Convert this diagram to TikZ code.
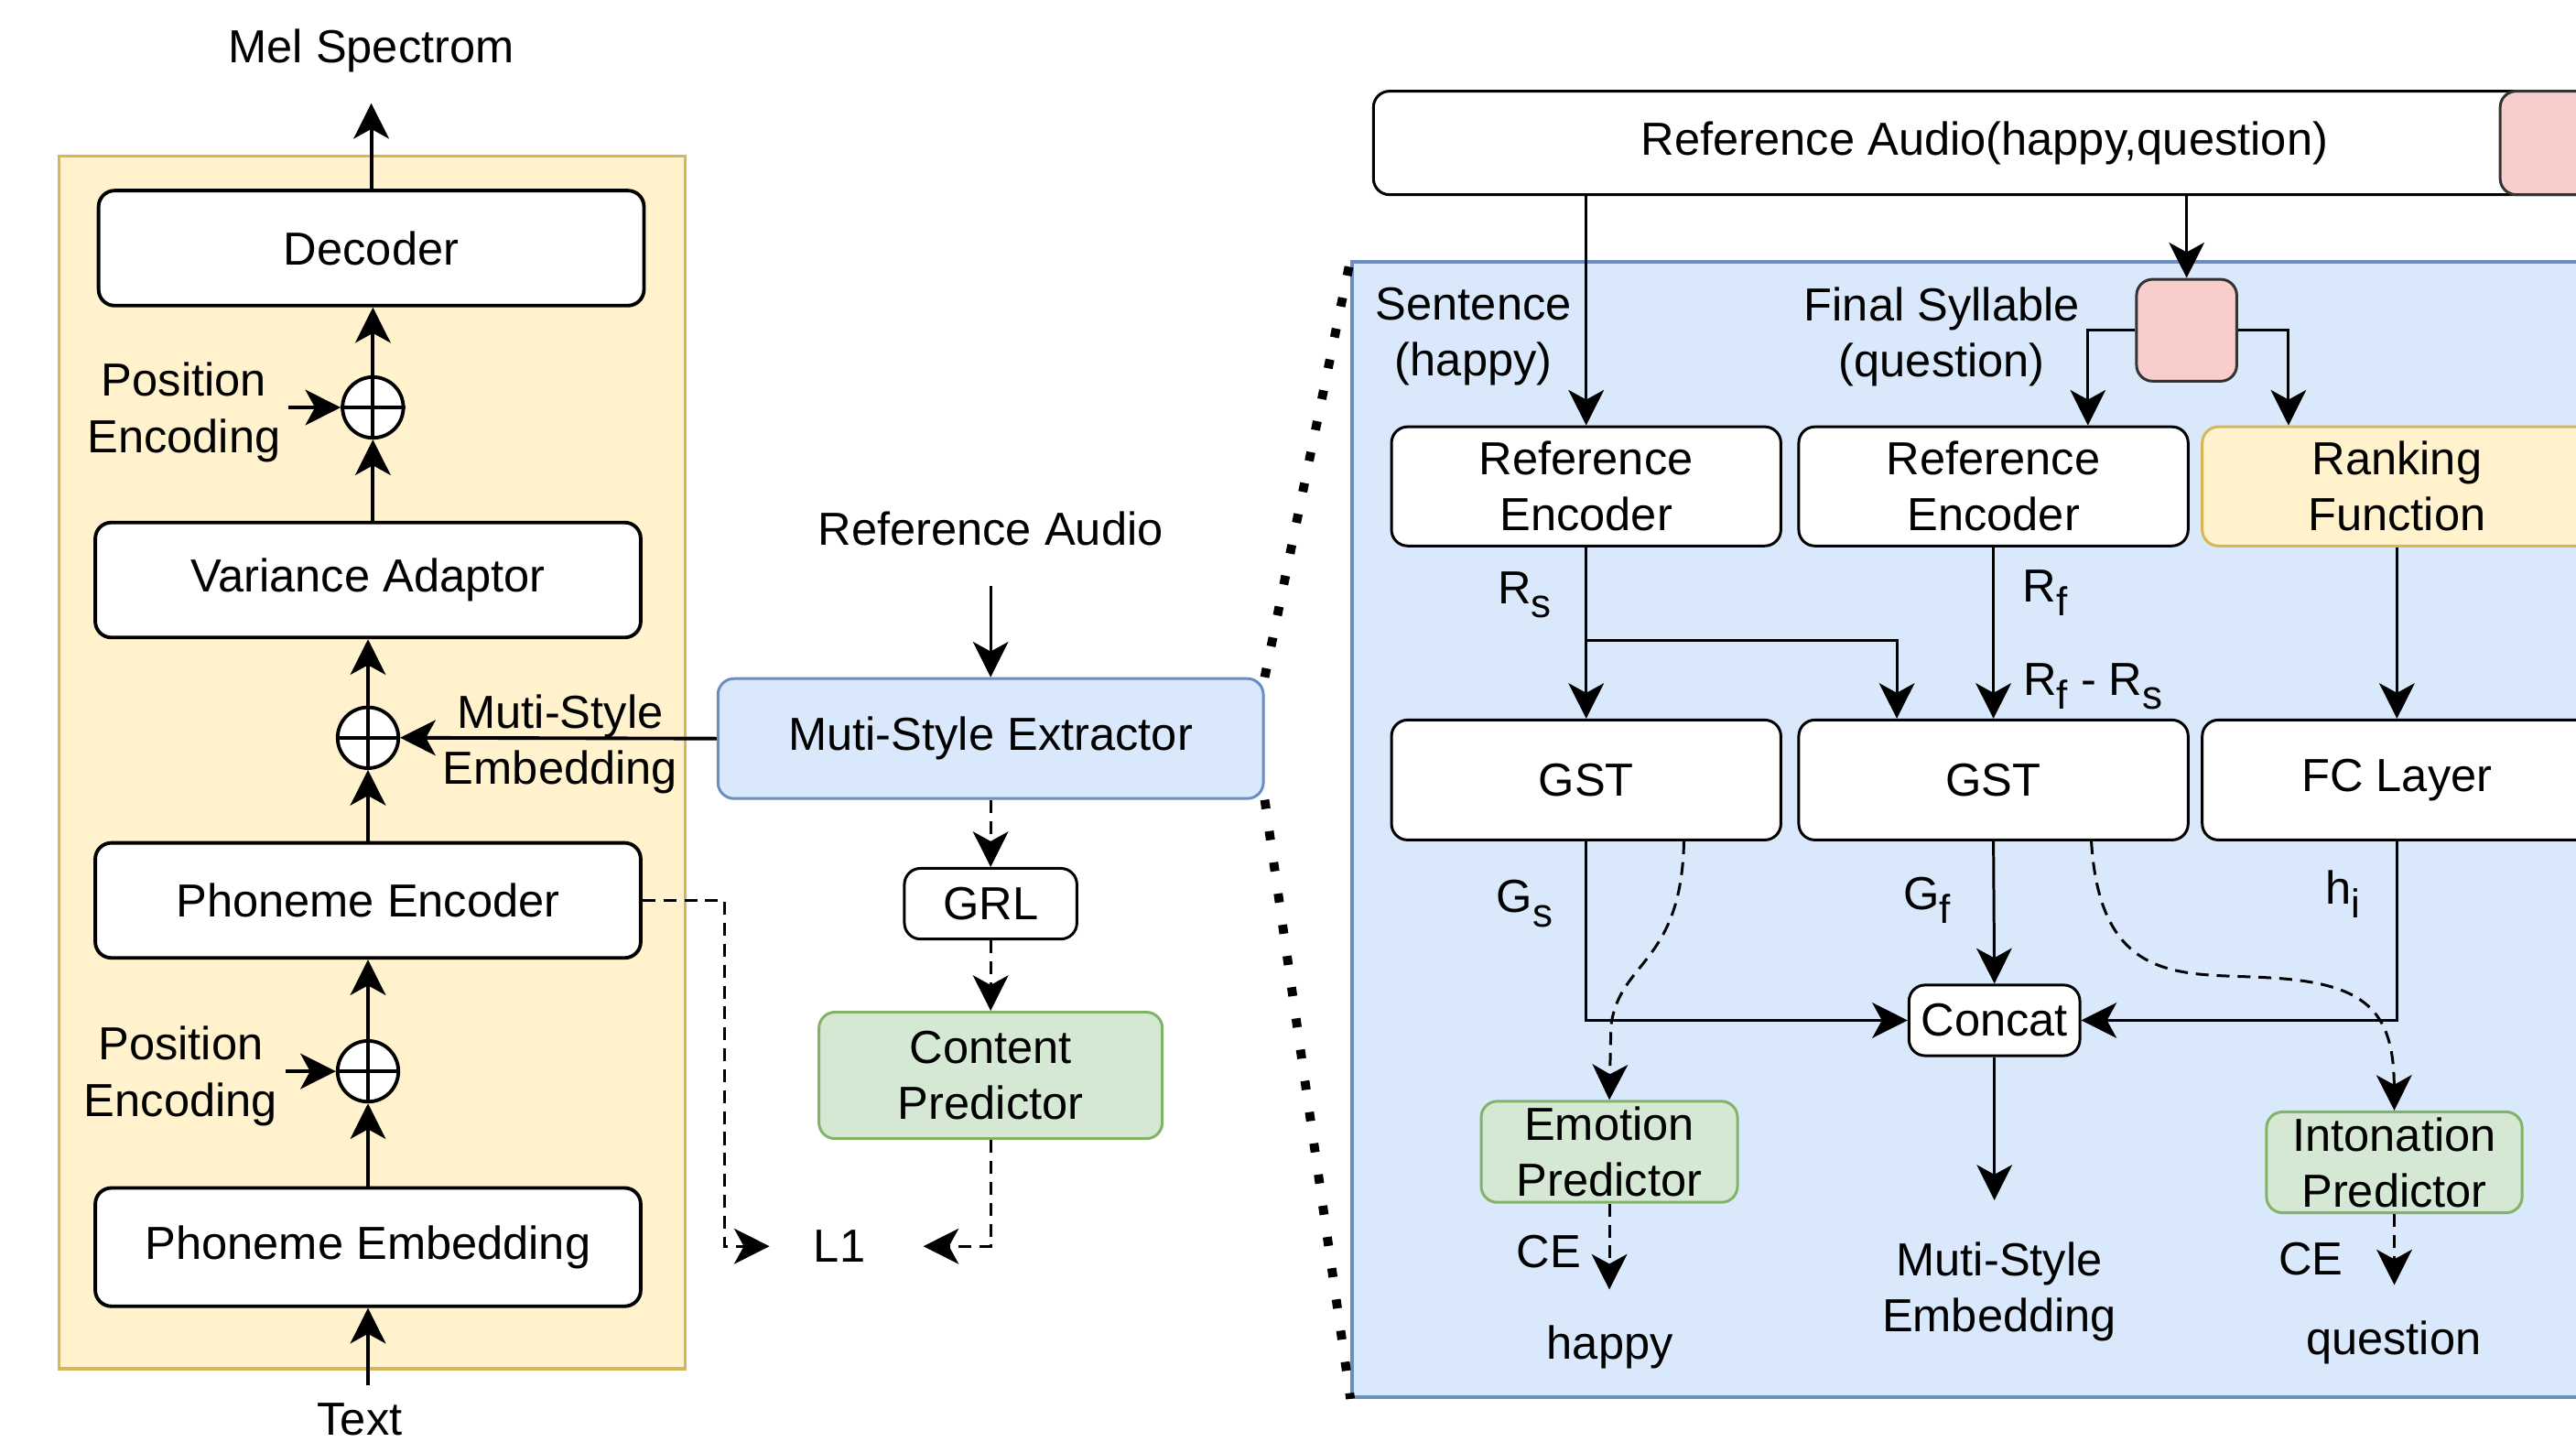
\documentclass[tikz,border=0pt]{standalone}
\usepackage{fontspec}
\setmainfont{Liberation Sans}
\usetikzlibrary{arrows.meta, positioning, calc}

\definecolor{yelfill}{HTML}{FFF2CC}
\definecolor{yeldraw}{HTML}{D6B656}
\definecolor{bluefill}{HTML}{DAE8FC}
\definecolor{bluedraw}{HTML}{6C8EBF}
\definecolor{grnfill}{HTML}{D5E8D4}
\definecolor{grndraw}{HTML}{82B366}
\definecolor{pinkfill}{HTML}{F8CECC}

\newcommand{\pxu}{0.017946cm}
\newcommand{\lowsub}[1]{\raisebox{-4.3pt}{\fontsize{12.5}{12.5}\selectfont #1}}

\tikzset{
	bsize/.style 2 args={minimum width=#1*\pxu, minimum height=#2*\pxu},
	block/.style={draw, rounded corners=5pt, fill=white, align=center, inner sep=0pt},
	lbl/.style={inner sep=2pt, align=center},
	arr/.style={-{Stealth[length=11pt,width=11pt,inset=3pt]}},
	darr/.style={arr, dash pattern=on 4pt off 2.5pt},
	plus/.style={draw, circle, fill=white, minimum size=37*\pxu, inner sep=0pt},
	dots/.style={line width=2.8pt, dash pattern=on 2.8pt off 7pt},
}

\begin{document}
\begin{tikzpicture}[x=\pxu, y=-\pxu, font=\fontsize{14.4}{17.4}\selectfont]
	\useasboundingbox (0,0) rectangle (1568,877.6);
	\clip (0,0) rectangle (1568,877.6);

	% containers
	\node[draw=yeldraw, fill=yelfill, line width=1pt, anchor=north west, bsize={381}{738}] (fs) at (35,94) {};
	\node[draw=bluedraw, fill=bluefill, line width=1.2pt, anchor=north west, bsize={820}{691}] (msebox) at (822,158) {};

	% left column
	\begin{scope}[line width=1.1pt]
	\node[block, bsize={332}{70}] (dec) at (226,151) {Decoder};
	\node[block, bsize={332}{70}] (var) at (224,353) {Variance Adaptor};
	\node[block, bsize={332}{70}] (penc) at (224,548) {Phoneme Encoder};
	\node[block, bsize={332}{72}] (pemb) at (224,759) {Phoneme Embedding};
	\node[plus] (add1) at (227,248) {};
	\node[plus] (add2) at (224,449) {};
	\node[plus] (add3) at (224,652) {};
	\foreach \p in {add1,add2,add3}
		\draw (\p.north) -- (\p.south) (\p.west) -- (\p.east);

	\node[lbl] (mel) at (226,31) {Mel Spectrom};
	\node[lbl] (pos1) at (112,251) {Position\\Encoding};
	\node[lbl] (mse) at (341,453) {Muti-Style\\Embedding};
	\node[lbl] (pos2) at (110,655) {Position\\Encoding};
	\node[lbl] (txt) at (219,864) {Text};

	\draw[arr, shorten >=7pt] (dec.north) -- (dec.north |- mel.south);
	\draw[arr] (add1.north) -- (add1.north |- dec.south);
	\draw[arr] (add1.south |- var.north) -- (add1.south);
	\draw[arr] (pos1.east |- add1.west) -- (add1.west);
	\draw[arr] (add2.north) -- (var.south);
	\draw[arr] (penc.north) -- (add2.south);
	\draw[arr] (add3.north) -- (penc.south);
	\draw[arr] (pemb.north) -- (add3.south);
	\draw[arr] (pos2.east |- add3.west) -- (add3.west);
	\draw[arr, shorten <=3pt] (txt.north -| pemb.south) -- (pemb.south);
	\end{scope}

	% extractor
	\begin{scope}[line width=0.85pt]
	\node[lbl] (refa) at (603,322) {Reference Audio};
	\node[block, draw=bluedraw, fill=bluefill, bsize={332}{73}] (extr) at (603,449.5) {Muti-Style Extractor};
	\node[block, bsize={105}{43}] (grl) at (603,550) {GRL};
	\node[block, draw=grndraw, fill=grnfill, bsize={209}{77}] (cpred) at (603,654.5) {Content\\Predictor};
	\node[lbl] (l1) at (511,758.5) {L1};

	\draw[arr, line width=1.1pt] (extr.west) -- (add2.east);
	\draw[arr, shorten <=10pt] (refa.south -| extr.north) -- (extr.north);
	\draw[darr] (extr.south) -- (grl.north);
	\draw[darr] (grl.south) -- (cpred.north);
	\draw[darr, shorten >=15.6pt] (cpred.south) |- (l1.east);
	\draw[darr, shorten >=11.3pt] (penc.east) -- ++(50,0) |- (l1.west);
	\end{scope}
	\draw[dots] (extr.north east) -- (msebox.north west);
	\draw[dots] (extr.south east) -- (msebox.south west);

	% multi-style extractor in detail
	\begin{scope}[line width=0.85pt]
	\node[block, bsize={744}{63}] (rbar) at (1208,87) {Reference Audio(happy,question)};
	\node[block, draw=black!80, fill=pinkfill, anchor=west, bsize={80}{63}] (rbarend) at (1521,87) {};
	\node[lbl] (sent) at (897,205) {Sentence\\(happy)};
	\node[lbl] (fsyl) at (1182,205) {Final Syllable\\(question)};
	\node[block, draw=black!80, fill=pinkfill, bsize={61}{62}] (seg) at (1331,201) {};
	\node[block, bsize={237}{72.5}] (renc1) at (965.5,296) {Reference\\Encoder};
	\node[block, bsize={237}{72.5}] (renc2) at (1213.4,296) {Reference\\Encoder};
	\node[block, draw=yeldraw, fill=yelfill, bsize={237}{72.5}] (rank) at (1459,296) {Ranking\\Function};
	\node[block, bsize={237}{73}] (gst1) at (965.5,474.7) {GST};
	\node[block, bsize={237}{73}] (gst2) at (1213.4,474.7) {GST};
	\node[block, bsize={237}{73}] (fc) at (1459,474.7) {FC Layer};
	\node[block, bsize={104}{43}] (concat) at (1214,621) {Concat};
	\node[block, draw=grndraw, fill=grnfill, bsize={156}{61.5}] (epred) at (979.6,701) {Emotion\\Predictor};
	\node[block, draw=grndraw, fill=grnfill, bsize={155.6}{61.4}] (ipred) at (1457.4,707.4) {Intonation\\Predictor};

	\node[lbl] (rs) at (928,362) {R\lowsub{s}};
	\node[lbl] (rf) at (1245,361) {R\lowsub{f}};
	\node[lbl] (rfs) at (1274,418) {R\lowsub{f} - R\lowsub{s}};
	\node[lbl] (gs) at (928,550) {G\lowsub{s}};
	\node[lbl] (gf) at (1173,548) {G\lowsub{f}};
	\node[lbl] (hi) at (1426,544) {h\lowsub{i}};
	\node[lbl] (ce1) at (942.6,762) {CE};
	\node[lbl] (ce2) at (1406.6,766) {CE};
	\node[lbl] (happy) at (980,820) {happy};
	\node[lbl] (quest) at (1457,817) {question};
	\node[lbl] (mse2) at (1217,786) {Muti-Style\\Embedding};

	\draw[arr] (rbar.south -| renc1.north) -- (renc1.north);
	\draw[arr] (rbar.south -| seg.north) -- (seg.north);
	\draw[arr] (seg.west) -| ($(renc2.north)+(57.5,0)$);
	\draw[arr] (seg.east) -| ($(rank.north)+(-66,0)$);
	\draw[arr] (renc1.south) -- (gst1.north);
	\coordinate (rsplit) at (renc1.south |- 0,390);
	\draw[arr] (rsplit) -| ($(gst2.north)+(-58.8,0)$);
	\draw[arr] (renc2.south) -- (gst2.north);
	\draw[arr] (rank.south) -- (fc.north);
	\draw[arr] (gst1.south) |- (concat.west);
	\draw[arr] (gst2.south) -- (concat.north);
	\draw[arr] (fc.south) |- (concat.east);
	\draw[arr, shorten >=10.5pt] (concat.south) -- (concat.south |- mse2.north);
	\draw[darr] ($(gst1.south)+(59.5,0)$) .. controls ($(gst1.south)+(58,75)$) and ($(epred.north)+(6,-85)$) .. ($(epred.north)+(1,-45)$) -- (epred.north);
	\draw[darr] ($(gst2.south)+(59.6,0)$) .. controls ($(gst2.south)+(65,89)$) and (1330,592) .. (1380,595) .. controls (1440,598) and (1457,615) .. (ipred.north);
	\draw[darr, shorten >=8.8pt] (epred.south) -- (epred.south |- happy.north);
	\draw[darr, shorten >=8.7pt] (ipred.south) -- (ipred.south |- quest.north);
	\end{scope}
\end{tikzpicture}
\end{document}
